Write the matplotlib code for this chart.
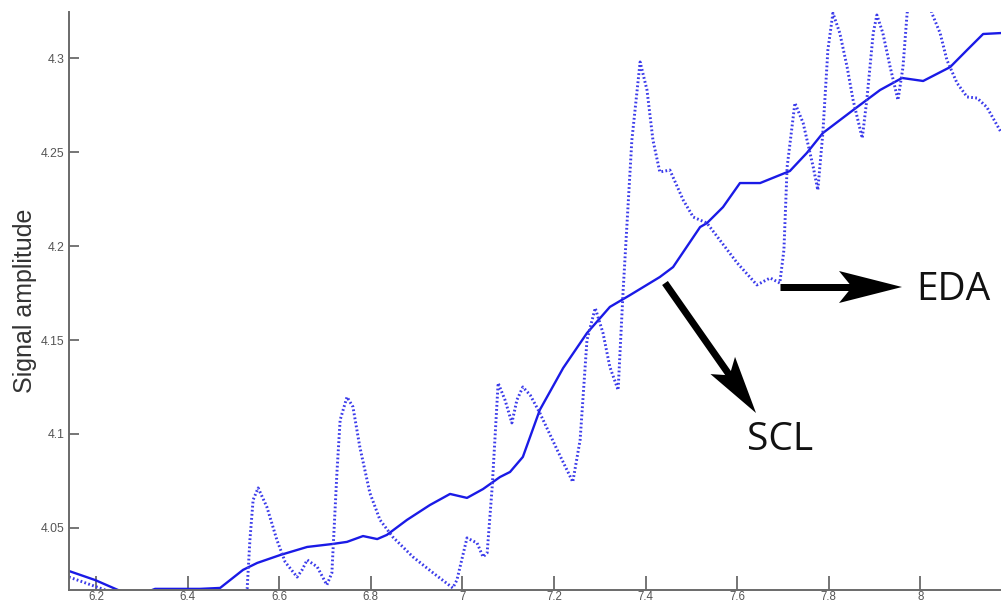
import numpy as np
import matplotlib
matplotlib.use("Agg")
import matplotlib.pyplot as plt
from matplotlib.patches import Polygon

# time (s) / amplitude samples of the tonic level (SCL)
scl_t = [6.141, 6.198, 6.248, 6.285, 6.329, 6.427, 6.471, 6.521, 6.552, 6.602,
         6.661, 6.717, 6.748, 6.783, 6.814, 6.835, 6.879, 6.929, 6.973, 7.010,
         7.045, 7.082, 7.104, 7.132, 7.169, 7.220, 7.272, 7.322, 7.366, 7.431,
         7.460, 7.519, 7.534, 7.569, 7.606, 7.650, 7.715, 7.752, 7.787, 7.853,
         7.912, 7.960, 8.006, 8.065, 8.102, 8.137, 8.176]
scl_v = [4.0271, 4.0223, 4.0170, 4.0135, 4.0176, 4.0176, 4.0181, 4.0277, 4.0314, 4.0356,
         4.0399, 4.0415, 4.0426, 4.0457, 4.0441, 4.0463, 4.0543, 4.0622, 4.0681, 4.0660,
         4.0707, 4.0771, 4.0798, 4.0878, 4.1128, 4.1351, 4.1537, 4.1676, 4.1739, 4.1835,
         4.1888, 4.2101, 4.2122, 4.2207, 4.2335, 4.2335, 4.2399, 4.2495, 4.2601, 4.2723,
         4.2830, 4.2894, 4.2878, 4.2952, 4.3043, 4.3128, 4.3133]

# raw electrodermal activity (EDA)
eda_t = [6.141, 6.220, 6.274, 6.427, 6.514, 6.530, 6.536, 6.543, 6.554, 6.573,
         6.595, 6.613, 6.639, 6.650, 6.661, 6.683, 6.704, 6.715, 6.726, 6.733,
         6.748, 6.761, 6.776, 6.798, 6.820, 6.848, 6.892, 6.936, 6.979, 6.988,
         7.010, 7.032, 7.045, 7.054, 7.065, 7.078, 7.093, 7.108, 7.119, 7.132,
         7.148, 7.169, 7.207, 7.241, 7.257, 7.272, 7.290, 7.307, 7.322, 7.340,
         7.351, 7.370, 7.388, 7.403, 7.416, 7.431, 7.453, 7.482, 7.504, 7.534,
         7.562, 7.600, 7.643, 7.672, 7.693, 7.702, 7.709, 7.726, 7.744, 7.766,
         7.776, 7.787, 7.798, 7.809, 7.824, 7.840, 7.853, 7.873, 7.883, 7.897,
         7.905, 7.918, 7.934, 7.951, 7.962, 7.971, 7.982, 7.999, 8.017, 8.025,
         8.043, 8.058, 8.080, 8.102, 8.124, 8.145, 8.176]
eda_v = [4.0239, 4.0170, 4.0117, 4.0060, 4.0090, 4.0176, 4.0436, 4.0649, 4.0713, 4.0612,
         4.0436, 4.0319, 4.0239, 4.0277, 4.0330, 4.0293, 4.0197, 4.0261, 4.0793, 4.1074,
         4.1197, 4.1144, 4.0931, 4.0686, 4.0543, 4.0452, 4.0346, 4.0261, 4.0181, 4.0223,
         4.0447, 4.0420, 4.0346, 4.0367, 4.0718, 4.1271, 4.1181, 4.1059, 4.1181, 4.1250,
         4.1207, 4.1112, 4.0915, 4.0745, 4.0968, 4.1500, 4.1670, 4.1537, 4.1356, 4.1234,
         4.1766, 4.2564, 4.2979, 4.2830, 4.2564, 4.2394, 4.2404, 4.2245, 4.2154, 4.2122,
         4.2032, 4.1910, 4.1793, 4.1830, 4.1803, 4.1979, 4.2420, 4.2761, 4.2654, 4.2420,
         4.2298, 4.2601, 4.3043, 4.3239, 4.3133, 4.2952, 4.2777, 4.2574, 4.2777, 4.3133,
         4.3229, 4.3133, 4.2952, 4.2777, 4.2952, 4.3239, 4.3360, 4.3410, 4.3330, 4.3239,
         4.3133, 4.2989, 4.2867, 4.2793, 4.2787, 4.2739, 4.2606]

xticks = [6.2, 6.4, 6.6, 6.8, 7.0, 7.2, 7.4, 7.6, 7.8, 8.0]
xtick_labels = ["6.2", "6.4", "6.6", "6.8", "7", "7.2", "7.4", "7.6", "7.8", "8"]
yticks = [4.05, 4.1, 4.15, 4.2, 4.25, 4.3]
ytick_labels = ["4.05", "4.1", "4.15", "4.2", "4.25", "4.3"]

W, H = 1001, 605
fig = plt.figure(figsize=(W / 100, H / 100), dpi=100)
ax = fig.add_axes([69 / W, 15 / H, (W - 69) / W, 578 / H])

blue = "#1a1ae6"
ax.plot(scl_t, scl_v, color=blue, lw=1.7, solid_capstyle="round")
ax.plot(eda_t, eda_v, color="#3b3bea", lw=2.1, linestyle=(0, (0.6, 0.8)))

ax.set_xlim(6.141, 8.176)
ax.set_ylim(4.0170, 4.3245)
ax.set_xticks(xticks, xtick_labels)
ax.set_yticks(yticks, ytick_labels)
for s in ["top", "right"]:
    ax.spines[s].set_visible(False)
for s in ["left", "bottom"]:
    ax.spines[s].set_color("#6a6a6a")
    ax.spines[s].set_linewidth(1.4)
ax.tick_params(axis="y", direction="in", length=7, width=1.3, color="#6a6a6a",
               labelsize=8.8, labelcolor="#555555", pad=3)
ax.tick_params(axis="x", direction="in", length=10, width=1.3, color="#6a6a6a",
               labelsize=8.3, labelcolor="#555555", pad=0.5)
for lab in ax.get_xticklabels() + ax.get_yticklabels():
    lab.set_family("Liberation Sans")

ax.set_ylabel("Signal amplitude", fontsize=18, color="#333333",
              family="Liberation Sans", labelpad=3)


def arrow(x0, y0, x1, y1, head_len=63, head_half=16, notch=13, shaft=6):
    """Black notched arrow, coordinates in pixels from the top-left corner."""
    d = np.array([x1 - x0, y1 - y0], float)
    L = np.hypot(*d)
    u = d / L
    n = np.array([-u[1], u[0]])
    tip = np.array([x1, y1], float)
    base = tip - u * head_len
    notch_pt = base + u * notch
    start = np.array([x0, y0], float)
    pts = [tip, base + n * head_half, notch_pt, base - n * head_half]

    def to_fig(p):
        return (p[0] / W, 1 - p[1] / H)

    fig.add_artist(Polygon([to_fig(p) for p in pts], closed=True,
                           transform=fig.transFigure, color="black", lw=0))
    sx, sy = zip(to_fig(start), to_fig(notch_pt + u * 2))
    fig.add_artist(plt.Line2D(sx, sy, transform=fig.transFigure,
                              color="black", lw=shaft * 0.72, solid_capstyle="butt"))


arrow(780, 287, 902, 287, shaft=7)
arrow(665, 283, 756, 413, head_len=58, head_half=15, notch=12, shaft=7)

fig.text(953 / W, 1 - 290 / H, "EDA", fontsize=28, family="Open Sans",
         ha="center", va="center", color="#111111")
fig.text(780 / W, 1 - 440 / H, "SCL", fontsize=28, family="Open Sans",
         ha="center", va="center", color="#111111")

fig.savefig("out.png", dpi=100)
